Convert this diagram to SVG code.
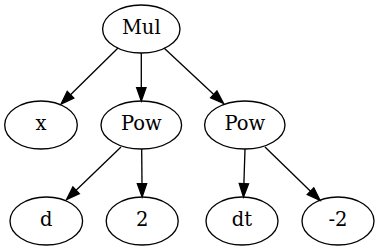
<svg xmlns="http://www.w3.org/2000/svg" width="380" height="251" viewBox="0 0 380 251">
<style>
.n ellipse{fill:none;stroke:#000;stroke-width:1.33}
.n text{font-family:"DejaVu Serif","Liberation Serif",serif;font-size:19.5px;text-anchor:middle;fill:#000}
#edges line{stroke:#000;stroke-width:1.33;marker-end:url(#ah)}
</style>
<defs>
<marker id="ah" markerUnits="userSpaceOnUse" markerWidth="16" markerHeight="12" refX="0" refY="4.67" orient="auto" overflow="visible">
<path d="M0,0 L13.3,4.67 L0,9.33 Z" fill="#000" stroke="#000" stroke-width="1.33"/>
</marker>
</defs>
<rect width="380" height="251" fill="#fff"/>
<g id="edges">
<line x1="118" y1="48" x2="70.5" y2="94.7"/>
<line x1="141.3" y1="53" x2="141.3" y2="87.7"/>
<line x1="164" y1="48" x2="213.8" y2="94.4"/>
<line x1="121" y1="147" x2="76.1" y2="190.3"/>
<line x1="141.7" y1="149" x2="142" y2="183.7"/>
<line x1="245" y1="149" x2="243.9" y2="183.7"/>
<line x1="265" y1="147" x2="310.5" y2="191.2"/>
</g>
<g id="mul" class="n"><ellipse cx="141.3" cy="29" rx="38.7" ry="24"/><text x="141.3" y="34">Mul</text></g>
<g id="x" class="n"><ellipse cx="41" cy="125" rx="36.3" ry="24"/><text x="41" y="130">x</text></g>
<g id="pow1" class="n"><ellipse cx="141.3" cy="125" rx="40.3" ry="24"/><text x="141.3" y="130">Pow</text></g>
<g id="pow2" class="n"><ellipse cx="244.8" cy="125" rx="40.2" ry="24"/><text x="244.8" y="130">Pow</text></g>
<g id="d" class="n"><ellipse cx="46.3" cy="221" rx="36.3" ry="24"/><text x="46.3" y="226">d</text></g>
<g id="two" class="n"><ellipse cx="142.2" cy="221" rx="36" ry="24"/><text x="142.2" y="226">2</text></g>
<g id="dt" class="n"><ellipse cx="242" cy="221" rx="36" ry="24"/><text x="242" y="226">dt</text></g>
<g id="neg2" class="n"><ellipse cx="338" cy="221" rx="36" ry="24"/><text x="338" y="226">-2</text></g>
</svg>
